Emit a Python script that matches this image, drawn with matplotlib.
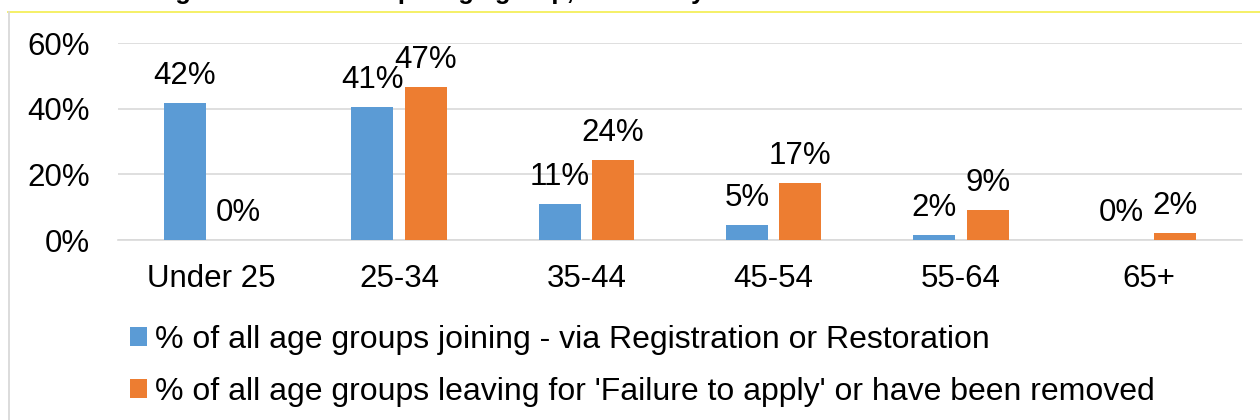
import matplotlib.pyplot as plt
from matplotlib.lines import Line2D
import numpy as np

plt.rcParams['font.family'] = ['Liberation Sans', 'DejaVu Sans']

age_groups = ['Under 25', '25-34', '35-44', '45-54', '55-64', '65+']
joining = [41.8, 40.6, 11.0, 4.6, 1.6, 0.0]
leaving = [0.0, 46.6, 24.3, 17.4, 9.1, 2.1]
series_names = ['% of all age groups joining - via Registration or Restoration',
                "% of all age groups leaving for 'Failure to apply' or have been removed"]
yticks = [0, 20, 40, 60]
title = 'Percentage of all members per age group, financial year'

blue = '#5b9bd5'
orange = '#ed7d31'
grid = '#d9d9d9'
fs = 22.5

fig = plt.figure(figsize=(12.6, 4.2), dpi=100)
ax = fig.add_axes([118 / 1260, 180 / 420, 1124 / 1260, 196.7 / 420])

x = np.arange(len(age_groups))
w = 0.224
off = 0.1425
b1 = ax.bar(x - off, joining, w, color=blue, label=series_names[0], zorder=3)
b2 = ax.bar(x + off, leaving, w, color=orange, label=series_names[1], zorder=3)

for bars, vals in ((b1, joining), (b2, leaving)):
    for r, v in zip(bars, vals):
        ax.annotate(f'{v:.0f}%', (r.get_x() + r.get_width() / 2, v),
                    xytext=(0, 19.5), textcoords='offset points',
                    ha='center', va='center', fontsize=fs)

ax.set_xlim(-0.5, 5.5)
ax.set_ylim(0, 60)
ax.set_yticks(yticks)
ax.set_yticklabels([f'{t}%' for t in yticks])
ax.set_xticks(x)
ax.set_xticklabels(age_groups)
ax.tick_params(axis='y', length=0, pad=20, labelsize=fs)
ax.tick_params(axis='x', length=0, pad=17, labelsize=fs)
ax.yaxis.grid(True, color=grid, linewidth=1.2, zorder=0)
ax.set_axisbelow(True)
for s in ['top', 'right', 'left']:
    ax.spines[s].set_visible(False)
ax.spines['bottom'].set_color(grid)
ax.spines['bottom'].set_linewidth(1.2)

fig.legend(handles=[b1, b2], loc='upper left', bbox_to_anchor=(130 / 1260, 1 - 325 / 420),
           frameon=False, fontsize=23, handlelength=0.54, handleheight=0.54,
           handletextpad=0.25, labelspacing=0.68, borderpad=0, borderaxespad=0)

# cut off title and the frame around the chart
fig.text(68 / 1260, 1 + 1 / 420, title, fontsize=18.3, fontweight='bold', va='baseline')
fig.add_artist(Line2D([8 / 1260, 1], [1 - 12 / 420, 1 - 12 / 420], color='#f5ef5a', linewidth=1.3))
fig.add_artist(Line2D([8.5 / 1260, 8.5 / 1260], [0, 1 - 12 / 420], color=grid, linewidth=1.3))

fig.savefig('out.png', dpi=100)
